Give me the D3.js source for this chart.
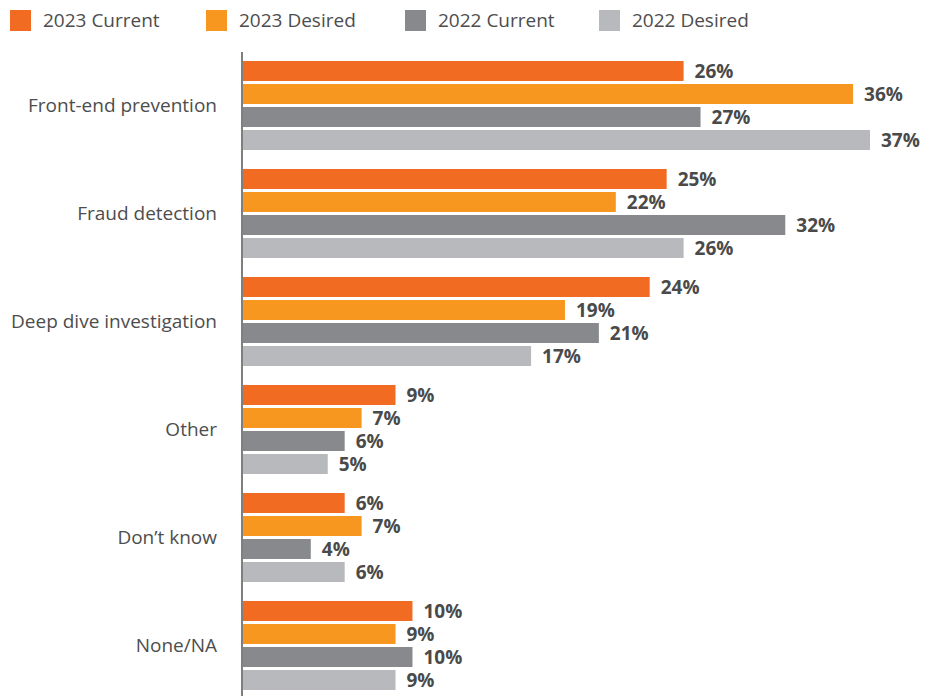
<!DOCTYPE html>
<html>
<head>
<meta charset="utf-8">
<script src="https://cdn.jsdelivr.net/npm/d3@7"></script>
<style>
  html, body { margin: 0; padding: 0; background: #fff; }
  svg { display: block; }
  text { font-family: "Open Sans", "Noto Sans", sans-serif; }
</style>
</head>
<body>
<svg id="chart" width="931" height="696"></svg>
<script>
const categories = ["Front-end prevention", "Fraud detection", "Deep dive investigation", "Other", "Don’t know", "None/NA"];
const seriesNames = ["2023 Current", "2023 Desired", "2022 Current", "2022 Desired"];
const seriesColors = ["#F26B22", "#F7971F", "#88898D", "#B8B9BC"];
const values2023Current = [26, 25, 24, 9, 6, 10];
const values2023Desired = [36, 22, 19, 7, 7, 9];
const values2022Current = [27, 32, 21, 6, 4, 10];
const values2022Desired = [37, 26, 17, 5, 6, 9];
const seriesValues = [values2023Current, values2023Desired, values2022Current, values2022Desired];

const svg = d3.select("#chart");

const x = d3.scaleLinear().domain([0, 37]).range([243, 870]);
const y0 = d3.scaleBand().domain(categories).range([52, 700]).padding(0);
const y1 = d3.scaleBand().domain(seriesNames).range([9, 98]).paddingInner(3 / 23).paddingOuter(0);

const data = [];
categories.forEach((c, ci) => {
  seriesNames.forEach((s, si) => {
    data.push({ cat: c, series: s, value: seriesValues[si][ci], color: seriesColors[si] });
  });
});

// bars
svg.append("g").selectAll("rect").data(data).join("rect")
  .attr("x", x(0))
  .attr("y", d => y0(d.cat) + y1(d.series))
  .attr("width", d => x(d.value) - x(0))
  .attr("height", y1.bandwidth())
  .attr("fill", d => d.color);

// value labels
svg.append("g").selectAll("text").data(data).join("text")
  .attr("x", d => x(d.value) + 11)
  .attr("y", d => y0(d.cat) + y1(d.series) + y1.bandwidth() / 2)
  .attr("dy", "0.36em")
  .attr("font-size", 19)
  .attr("font-weight", 700)
  .attr("fill", "#4a4a4a")
  .text(d => d.value + "%");

// axis
const yAxis = d3.axisLeft(y0).tickSize(0).tickPadding(25);
const axisG = svg.append("g").attr("transform", `translate(${242},0)`).call(yAxis);
axisG.select(".domain").remove();
axisG.selectAll("text")
  .attr("font-size", 19)
  .attr("fill", "#4d4d4d")
  .style("font-family", "\"Open Sans\", sans-serif");
axisG.append("line")
  .attr("x1", 0).attr("x2", 0)
  .attr("y1", 52).attr("y2", 696)
  .attr("stroke", "#555")
  .attr("stroke-width", 1.5);

// legend
const legendX = [10, 206, 405, 599];
const legend = svg.append("g").selectAll("g").data(seriesNames).join("g")
  .attr("transform", (d, i) => `translate(${legendX[i]},10)`);
legend.append("rect").attr("width", 21).attr("height", 21).attr("fill", (d, i) => seriesColors[i]);
legend.append("text")
  .attr("x", 33).attr("y", 10.5).attr("dy", "0.36em")
  .attr("font-size", 19)
  .attr("fill", "#4d4d4d")
  .text(d => d);
</script>
</body>
</html>
